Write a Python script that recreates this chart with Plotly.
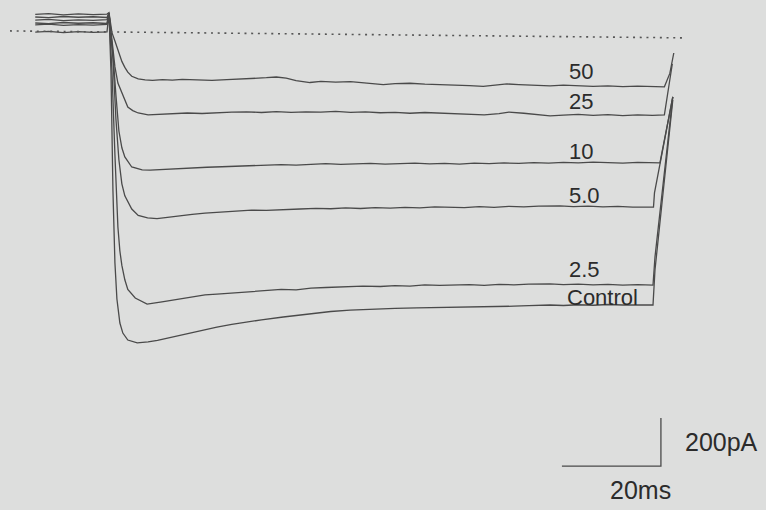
import plotly.graph_objects as go

# ---- recorded current traces (time in ms from the step, current in pA) ----
t_50 = [-14.7, -12, -9, -6, -3, -0.2, 0.2, 0.8, 1.4, 2.0, 2.8, 3.4, 4.0, 4.8, 6.1, 7.5, 9, 11, 13, 15, 18, 21, 24, 27, 30, 32, 34, 36, 38, 40.8, 43, 46, 49, 52, 55.6, 58, 61, 64, 67, 70, 73, 75.8, 78, 80.6, 83, 86, 89.3, 92, 95, 98, 101, 104, 107, 110, 112.4, 113.5, 114.3]
i_50 = [86, 89, 84, 88, 85, 87, 93, 10, -25, -60, -110, -135, -155, -172, -183, -187, -189, -186, -188, -185, -187, -189, -186, -184, -181, -178, -175, -180, -190, -198, -193, -196, -194, -199, -207, -203, -201, -205, -206, -209, -211, -214, -208, -204, -207, -210, -212, -209, -211, -214, -212, -215, -213, -216, -216, -160, -75]

t_25 = [-14.7, -12, -9, -6, -3, -0.2, 0.2, 1.0, 1.4, 2.0, 2.8, 4.0, 5.0, 6.1, 8.1, 10, 13, 16, 19, 22, 25, 28, 31, 34, 37, 40, 43, 46, 49, 52, 55, 58, 61, 64, 67, 70, 73, 76, 79, 81, 84, 87, 89.3, 92, 95, 98, 101, 104, 107, 110, 112.4, 113.4, 114.0]
i_25 = [75, 72, 77, 74, 76, 73, 92, -62, -133, -200, -242, -300, -315, -325, -333, -331, -328, -325, -327, -323, -321, -320, -323, -319, -322, -320, -321, -318, -322, -320, -324, -322, -326, -323, -325, -327, -330, -333, -328, -321, -326, -331, -337, -334, -331, -335, -332, -336, -333, -335, -333, -200, -120]

t_10 = [-14.7, -12, -9, -6, -3, -0.2, 0.2, 1.0, 1.6, 2.2, 2.8, 3.4, 4.8, 6.9, 8.5, 11, 14, 17, 20, 23, 26, 29, 32, 35, 38, 41, 44, 47, 50, 53, 56, 59, 62, 65, 68, 71, 74, 77, 80, 83, 86, 89, 92, 95, 98, 101, 104, 107, 111.5, 114.1]
i_10 = [62, 65, 60, 63, 61, 64, 91, -80, -250, -400, -470, -508, -550, -562, -563, -560, -557, -553, -551, -549, -547, -544, -541, -540, -542, -538, -536, -539, -537, -535, -538, -536, -534, -537, -535, -538, -534, -536, -533, -535, -532, -534, -531, -533, -530, -532, -534, -531, -533, -258]

t_5 = [-14.7, -12, -9, -6, -3, -0.2, 0.2, 1.0, 1.6, 2.2, 2.8, 3.4, 4.8, 6.1, 8.0, 9.9, 12, 14.1, 17, 19.6, 23, 26, 29, 32, 35, 38.8, 42, 45, 48, 51, 54, 57, 60, 63, 66, 69.1, 72, 75, 78, 81, 84, 87, 91.3, 94, 97, 100, 103, 106, 110.2, 110.4, 114.1]
i_5 = [50, 47, 52, 49, 51, 48, 91, -100, -350, -520, -620, -670, -725, -752, -762, -765, -760, -754, -747, -742, -738, -734, -730, -731, -727, -725, -722, -724, -720, -723, -719, -721, -718, -720, -716, -717, -719, -715, -718, -714, -716, -713, -712, -715, -713, -716, -714, -717, -717, -658, -258]

t_2p5 = [-14.7, -12, -9, -6, -3, -0.2, 0.2, 0.8, 1.4, 2.0, 2.4, 2.8, 3.4, 4.0, 5.5, 7.9, 10.9, 13, 15, 17.5, 19.6, 22, 25, 28.7, 32, 35, 38, 41, 44, 47, 51.5, 55, 58, 61, 64, 67, 70, 73, 76, 79, 82, 85, 89.3, 92, 95, 98, 101, 104, 107, 110.1, 110.5, 114.1]
i_2p5 = [42, 45, 40, 43, 41, 44, 91, -150, -500, -800, -900, -960, -1020, -1060, -1096, -1121, -1112, -1105, -1096, -1090, -1083, -1080, -1075, -1071, -1066, -1060, -1062, -1055, -1052, -1049, -1046, -1048, -1044, -1046, -1041, -1043, -1042, -1040, -1043, -1039, -1041, -1038, -1037, -1040, -1038, -1041, -1039, -1042, -1040, -1042, -925, -258]

t_ctrl = [-14.7, -12, -9, -6, -3, -0.2, 0.2, 0.6, 1.0, 1.4, 1.8, 2.4, 3.0, 4.0, 5.9, 8.1, 10, 12.1, 14, 16.2, 19, 22, 25, 28, 31, 35.4, 39, 42, 45, 48.9, 52, 55, 58, 62.4, 66, 69, 72, 75.8, 79, 82, 85, 89.3, 92, 95, 98, 101, 104, 107, 110.1, 110.5, 114.1]
i_ctrl = [12, 15, 10, 14, 11, 13, 91, -150, -650, -950, -1100, -1200, -1242, -1271, -1283, -1279, -1272, -1262, -1253, -1242, -1230, -1217, -1206, -1196, -1187, -1175, -1166, -1158, -1152, -1146, -1143, -1140, -1139, -1137, -1136, -1134, -1135, -1133, -1131, -1130, -1128, -1125, -1127, -1124, -1126, -1123, -1125, -1124, -1125, -979, -271]

# zero-current reference (dotted)
t_zero = [-19.8, 116.6]
i_zero = [17, -12]

# trace labels: concentration, and where each label sits (ms, pA)
labels = ["50", "25", "10", "5.0", "2.5", "Control"]
label_t = [92.7, 92.7, 92.7, 92.7, 92.7, 92.3]
label_i = [-154, -279, -487, -667, -979, -1092]

# scale bar sizes
bar_ms = 20
bar_pa = 200
bar_t_end = 111.7
bar_i_base = -1796

# ---- page calibration: pixels per unit and origin position ----
W, H = 766, 510
X0_PX, PX_PER_MS = 108, 4.95
Y0_PX, PX_PER_PA = 35, 0.24

x_range = [(0 - X0_PX) / PX_PER_MS, (W - X0_PX) / PX_PER_MS]
y_range = [-(H - Y0_PX) / PX_PER_PA, Y0_PX / PX_PER_PA]

ink = "#4a4a4a"
text_ink = "#2b2b2b"
bg = "#dddedd"
font_family = "Liberation Sans, Arial"

fig = go.Figure()

traces = [(t_50, i_50), (t_25, i_25), (t_10, i_10), (t_5, i_5), (t_2p5, i_2p5), (t_ctrl, i_ctrl)]
for (tt, ii), name in zip(traces, labels):
    fig.add_trace(go.Scatter(x=tt, y=ii, mode="lines", name=name,
                             line=dict(color=ink, width=1.3), hoverinfo="skip"))

fig.add_trace(go.Scatter(x=t_zero, y=i_zero, mode="lines",
                         line=dict(color="#555555", width=1.6, dash="2px,4.7px"),
                         hoverinfo="skip"))

# scale bar
fig.add_trace(go.Scatter(
    x=[bar_t_end - bar_ms, bar_t_end, bar_t_end],
    y=[bar_i_base, bar_i_base, bar_i_base + bar_pa],
    mode="lines", line=dict(color=ink, width=1.3), hoverinfo="skip"))

annotations = []
for txt, tx, iy in zip(labels, label_t, label_i):
    annotations.append(dict(x=tx, y=iy, text=txt, showarrow=False,
                            xanchor="left", yanchor="middle",
                            font=dict(family=font_family, size=22, color=text_ink)))
annotations.append(dict(x=bar_t_end + 4.5, y=bar_i_base + bar_pa / 2, text=f"{bar_pa}pA",
                        showarrow=False, xanchor="left", yanchor="middle",
                        font=dict(family=font_family, size=25, color=text_ink)))
annotations.append(dict(x=bar_t_end - 4.2, y=bar_i_base - 100, text=f"{bar_ms}ms",
                        showarrow=False, xanchor="center", yanchor="middle",
                        font=dict(family=font_family, size=25, color=text_ink)))

fig.update_layout(
    width=W, height=H,
    margin=dict(l=0, r=0, t=0, b=0),
    paper_bgcolor=bg, plot_bgcolor=bg,
    showlegend=False,
    annotations=annotations,
    xaxis=dict(range=x_range, visible=False, showgrid=False, zeroline=False),
    yaxis=dict(range=y_range, visible=False, showgrid=False, zeroline=False),
)

fig.write_html("out.html")
